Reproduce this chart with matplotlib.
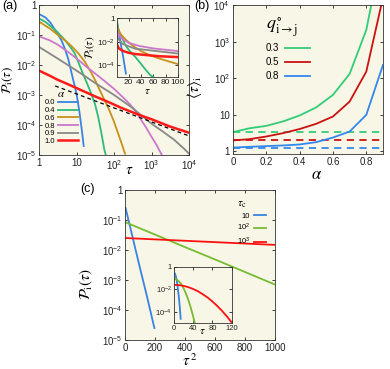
import matplotlib
matplotlib.use('Agg')
import matplotlib.pyplot as plt

plt.rcParams['font.family'] = ['Liberation Sans', 'DejaVu Sans']
plt.rcParams['mathtext.fontset'] = 'stix'
plt.rcParams['mathtext.default'] = 'it'
plt.rcParams['axes.linewidth'] = 0.6
plt.rcParams['axes.edgecolor'] = '#333333'
plt.rcParams['xtick.direction'] = 'in'
plt.rcParams['ytick.direction'] = 'in'
plt.rcParams['xtick.major.size'] = 2.5
plt.rcParams['ytick.major.size'] = 2.5
plt.rcParams['xtick.major.width'] = 0.6
plt.rcParams['ytick.major.width'] = 0.6
plt.rcParams['xtick.major.pad'] = 2
plt.rcParams['ytick.major.pad'] = 2

BG = '#f8f6e6'

# ---- panel (a): P_i(tau) for several alpha
alpha_labels = ['0.0', '0.4', '0.6', '0.8', '0.9', '1.0']
tau_a00 = [1, 1.5, 2, 3, 4, 5, 6, 8, 10, 12, 14, 15.5]
p_a00 = [0.5, 0.38, 0.26, 0.12, 0.065, 0.032, 0.016, 3.5e-3, 1.1e-3, 2.6e-4, 6e-5, 2e-5]
tau_a04 = [1, 1.5, 2, 3, 5, 7, 9, 11, 13.5, 17, 20, 25, 31, 38, 47, 55, 60]
p_a04 = [0.36, 0.27, 0.2, 0.13, 0.066, 0.038, 0.024, 0.013, 6.8e-3, 3.4e-3, 2.1e-3,
         1.05e-3, 5e-4, 1.8e-4, 4.6e-5, 1.5e-5, 1e-5]
tau_a06 = [1, 2, 3.2, 5, 7.3, 11, 16.5, 23, 30.6, 40, 55, 71, 95, 118, 150, 196]
p_a06 = [0.28, 0.16, 0.1, 0.065, 0.043, 0.025, 0.013, 6.5e-3, 3.3e-3, 1.6e-3, 7e-4,
         3.6e-4, 1.5e-4, 7e-5, 3e-5, 1.1e-5]
tau_a08 = [1, 2, 3.2, 6, 11, 20, 37, 60, 100, 170, 260, 363, 490, 700, 1000, 1400, 1870]
p_a08 = [0.09, 0.065, 0.047, 0.027, 0.015, 8e-3, 4.4e-3, 2.7e-3, 1.6e-3, 8.5e-4, 5e-4,
         3e-4, 1.7e-4, 8.5e-5, 4e-5, 2e-5, 1e-5]
tau_a09 = [1, 3, 10, 30, 100, 300, 450, 1000, 2000, 4000, 7000, 10000]
p_a09 = [0.04, 0.017, 6.5e-3, 2.6e-3, 1.0e-3, 3.8e-4, 2.5e-4, 1.1e-4, 6e-5, 3.2e-5, 1.7e-5, 1.1e-5]
tau_a10 = [1, 2, 3, 5, 10, 20, 31, 69, 150, 450, 1000, 3000, 10000]
p_a10 = [6.5e-3, 4.3e-3, 3.3e-3, 2.5e-3, 1.7e-3, 1.15e-3, 9e-4, 5.9e-4, 3.8e-4, 2.2e-4,
         1.55e-4, 9e-5, 5.5e-5]
ref_tau = [2.7, 10000]
ref_p = [2e-3, 4.3e-5]

# ---- panel (b): mean tau vs alpha
alpha_b = [0, 0.1, 0.2, 0.3, 0.4, 0.5, 0.6, 0.7, 0.8, 0.9]
q_labels = ['0.3', '0.5', '0.8']
tau_q03 = [3.37, 4.3, 5.0, 6.6, 9.6, 16, 35, 131, 2090, 4e5]
tau_q05 = [2.0, 2.17, 2.56, 3.16, 4.1, 5.7, 9.0, 23, 152, 1.6e4]
tau_q08 = [1.28, 1.34, 1.4, 1.46, 1.55, 1.8, 2.4, 3.5, 10, 230]
base_q = [3.37, 2.0, 1.28]

# ---- panel (c): P_i vs tau^2 for several tau_c
tc_labels = ['10', r'$\mathregular{10^2}$', r'$\mathregular{10^3}$']
tau_c10 = [2, 4, 6, 8, 10, 12, 14]
p_c10 = [0.25, 0.14, 0.054, 0.014, 2.5e-3, 3.2e-4, 2.5e-5]
tau_c100 = [1, 5, 10, 15, 20, 25, 30, 35, 40, 43]
p_c100 = [0.085, 0.0755, 0.0527, 0.029, 0.0125, 4.3e-3, 1.14e-3, 2.4e-4, 4.0e-5, 1.2e-5]
tau_c1000 = [0, 10, 20, 30, 40, 50, 60, 70, 80, 90, 100, 110, 120]
p_c1000 = [0.0251, 0.0238, 0.0203, 0.0156, 0.0108, 6.7e-3, 3.7e-3, 1.9e-3, 8.5e-4,
           3.4e-4, 1.26e-4, 4.1e-5, 1.2e-5]


def pow_label(e):
    if e == 0:
        return '1'
    if e == 1:
        return '10'
    return r'$\mathregular{10^{%d}}$' % e


def style(ax, fs=7):
    ax.set_facecolor(BG)
    ax.tick_params(top=True, right=True, labelsize=fs, colors='#222222')
    ax.minorticks_off()


fig = plt.figure(figsize=(3.9, 3.69), dpi=100)

a_cols = ['#3a82e4', '#2fbb7a', '#c8901c', '#cc77cc', '#888888', '#ff1a1a']
a_lw = [1.3, 1.3, 1.3, 1.3, 1.3, 1.8]
a_data = [(tau_a00, p_a00), (tau_a04, p_a04), (tau_a06, p_a06),
          (tau_a08, p_a08), (tau_a09, p_a09), (tau_a10, p_a10)]

ax_a = fig.add_axes([0.1, 0.58, 0.385, 0.4065])
style(ax_a)
lines = []
for (t, p), c, lw in zip(a_data, a_cols, a_lw):
    l, = ax_a.plot(t, p, color=c, lw=lw)
    lines.append(l)
ax_a.plot(ref_tau, ref_p, 'k--', lw=0.9, dashes=(3, 2.5))
ax_a.set_xscale('log')
ax_a.set_yscale('log')
ax_a.set_xlim(1, 1e4)
ax_a.set_ylim(1e-5, 1)
ax_a.minorticks_off()
ax_a.set_xticks([1, 10, 100, 1000, 1e4], [pow_label(e) for e in range(5)])
ax_a.set_yticks([10.0 ** -e for e in range(6)], [pow_label(-e) for e in range(6)])
ax_a.set_xlabel(r'$\tau$', fontsize=11)
ax_a.xaxis.set_label_coords(0.6, -0.055)
ax_a.set_ylabel(r'$\mathcal{P}_{\rm i}(\tau)$', fontsize=9.5)
ax_a.yaxis.set_label_coords(-0.16, 0.5)
ax_a.legend(lines, alpha_labels, title=r'$\alpha$', loc='lower left',
            bbox_to_anchor=(0.0, 0.03), frameon=False, markerfirst=False,
            fontsize=5.5, title_fontsize=8, labelspacing=0.05,
            handlelength=2.6, handletextpad=0.4, borderpad=0.2)

ax_ai = fig.add_axes([0.3, 0.791, 0.156, 0.16])
style(ax_ai, fs=6)
for (t, p), c, lw in zip(a_data, a_cols, a_lw):
    ax_ai.plot(t, p, color=c, lw=lw)
ax_ai.set_yscale('log')
ax_ai.set_xlim(1, 100)
ax_ai.set_ylim(1e-5, 1)
ax_ai.minorticks_off()
ax_ai.set_xticks([20, 40, 60, 80, 100])
ax_ai.set_yticks([1, 1e-2, 1e-4], ['1', pow_label(-2), pow_label(-4)])
ax_ai.tick_params(length=2, pad=1.5)
ax_ai.set_xlabel(r'$\tau$', fontsize=8, labelpad=0)
ax_ai.set_ylabel(r'$\mathcal{P}_{\rm i}(\tau)$', fontsize=8, labelpad=0)

# panel (b)
b_cols = ['#33cc77', '#cc1111', '#3388ee']
ax_b = fig.add_axes([0.597, 0.583, 0.385, 0.4035])
style(ax_b)
for vals, base, c, lab in zip([tau_q03, tau_q05, tau_q08], base_q, b_cols, q_labels):
    ax_b.plot(alpha_b, vals, color=c, lw=1.3, label=lab)
    ax_b.axhline(base, color=c, lw=1.3, ls=(0, (4, 3)))
ax_b.set_yscale('log')
ax_b.set_xlim(0, 0.9)
ax_b.set_ylim(0.86, 1e4)
ax_b.minorticks_off()
ax_b.set_xticks([0, 0.2, 0.4, 0.6, 0.8], ['0', '0.2', '0.4', '0.6', '0.8'])
ax_b.set_yticks([1, 10, 100, 1000, 1e4], [pow_label(e) for e in range(5)])
ax_b.set_xlabel(r'$\alpha$', fontsize=12)
ax_b.xaxis.set_label_coords(0.557, -0.09)
ax_b.set_ylabel(r'$\langle\tau\rangle_{\rm i}$', fontsize=11)
ax_b.yaxis.set_label_coords(-0.19, 0.45)
leg_b = ax_b.legend(title=r'$q^{\circ}_{\rm i\rightarrow j}$', loc='upper left',
                    bbox_to_anchor=(0.16, 0.985), frameon=False, markerfirst=False,
                    fontsize=7, title_fontsize=13, labelspacing=0.4,
                    handlelength=2.6, handletextpad=0.6)
leg_b._legend_box.align = 'left'

# panel (c)
c_cols = ['#3a82e4', '#77bb33', '#ff1111']
c_data = [(tau_c10, p_c10), (tau_c100, p_c100), (tau_c1000, p_c1000)]
ax_c = fig.add_axes([0.3205, 0.0786, 0.3846, 0.4065])
style(ax_c)
for (t, p), c, lab in zip(c_data, c_cols, tc_labels):
    ax_c.plot([v ** 2 for v in t], p, color=c, lw=1.3, label=lab)
ax_c.set_yscale('log')
ax_c.set_xlim(0, 1000)
ax_c.set_ylim(1e-5, 1)
ax_c.minorticks_off()
ax_c.set_xticks([0, 200, 400, 600, 800, 1000])
ax_c.set_yticks([10.0 ** -e for e in range(6)], [pow_label(-e) for e in range(6)])
ax_c.set_xlabel(r'$\tau^{\,2}$', fontsize=11)
ax_c.xaxis.set_label_coords(0.433, -0.08)
ax_c.set_ylabel(r'$\mathcal{P}_{\rm i}(\tau)$', fontsize=11)
ax_c.yaxis.set_label_coords(-0.2, 0.37)
leg_c = ax_c.legend(title=r'$\tau_{\rm c}$', loc='upper left', bbox_to_anchor=(0.7, 0.99),
                    frameon=False, markerfirst=False, fontsize=5.5, title_fontsize=8,
                    labelspacing=0.3, handlelength=1.6, handletextpad=0.5)
leg_c._legend_box.align = 'left'

ax_ci = fig.add_axes([0.446, 0.1238, 0.148, 0.1534])
style(ax_ci, fs=5.5)
for (t, p), c in zip(c_data, c_cols):
    ax_ci.plot(t, p, color=c, lw=1.3)
ax_ci.set_yscale('log')
ax_ci.set_xlim(0, 120)
ax_ci.set_ylim(1e-5, 1)
ax_ci.minorticks_off()
ax_ci.set_xticks([0, 40, 80, 120])
ax_ci.set_yticks([1, 1e-2, 1e-4], ['1', pow_label(-2), pow_label(-4)])
ax_ci.tick_params(length=2, pad=1.5)
ax_ci.text(0.5, -0.04, r'$\tau$', transform=ax_ci.transAxes, fontsize=8,
           ha='center', va='top')

fig.text(0.005, 0.984, '(a)', fontsize=9, va='center')
fig.text(0.497, 0.984, '(b)', fontsize=9, va='center')
fig.text(0.207, 0.488, '(c)', fontsize=9, va='center')

fig.savefig('out.png', dpi=100)
